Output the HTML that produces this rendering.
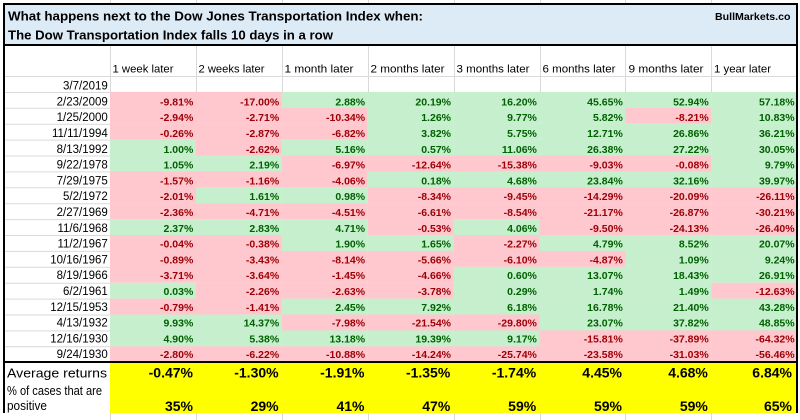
<!DOCTYPE html>
<html><head><meta charset="utf-8"><style>
html,body{margin:0;padding:0;background:#fff;width:800px;height:420px;overflow:hidden}
svg{display:block}
text{font-family:"Liberation Sans",Arial,sans-serif}
.p{fill:#FFC7CE}.g{fill:#C6EFCE}
.n text{font-size:10.5px;font-weight:bold;text-anchor:end}
.tp{fill:#9C0006}.tg{fill:#006100}
.d{font-size:11.5px;text-anchor:end;fill:#000}
.h{font-size:11px;fill:#000}
.y text{font-size:14px;font-weight:bold;text-anchor:end;fill:#000}
.gl{stroke:#D9D9D9;stroke-width:1}
</style></head><body>
<svg width="800" height="420" viewBox="0 0 800 420" xmlns="http://www.w3.org/2000/svg">
<rect x="0" y="0" width="800" height="420" fill="#fff"/>
<!-- gridlines outside -->
<g class="gl">
<line x1="110.5" y1="0" x2="110.5" y2="4"/><line x1="196.5" y1="0" x2="196.5" y2="4"/><line x1="282.5" y1="0" x2="282.5" y2="4"/><line x1="368.5" y1="0" x2="368.5" y2="4"/><line x1="454.5" y1="0" x2="454.5" y2="4"/><line x1="540.5" y1="0" x2="540.5" y2="4"/><line x1="625.5" y1="0" x2="625.5" y2="4"/><line x1="711.5" y1="0" x2="711.5" y2="4"/>
<line x1="110.5" y1="413" x2="110.5" y2="420"/><line x1="196.5" y1="413" x2="196.5" y2="420"/><line x1="282.5" y1="413" x2="282.5" y2="420"/><line x1="368.5" y1="413" x2="368.5" y2="420"/><line x1="454.5" y1="413" x2="454.5" y2="420"/><line x1="540.5" y1="413" x2="540.5" y2="420"/><line x1="625.5" y1="413" x2="625.5" y2="420"/><line x1="711.5" y1="413" x2="711.5" y2="420"/>
<!-- header verticals -->
<line x1="110.5" y1="45" x2="110.5" y2="92"/><line x1="196.5" y1="45" x2="196.5" y2="92"/><line x1="282.5" y1="45" x2="282.5" y2="92"/><line x1="368.5" y1="45" x2="368.5" y2="92"/><line x1="454.5" y1="45" x2="454.5" y2="92"/><line x1="540.5" y1="45" x2="540.5" y2="92"/><line x1="625.5" y1="45" x2="625.5" y2="92"/><line x1="711.5" y1="45" x2="711.5" y2="92"/>
<line x1="5" y1="76.5" x2="797" y2="76.5"/><line x1="5" y1="92.5" x2="797" y2="92.5"/>
<line x1="5" y1="108.3" x2="110" y2="108.3"/><line x1="5" y1="124.2" x2="110" y2="124.2"/><line x1="5" y1="140.1" x2="110" y2="140.1"/><line x1="5" y1="156" x2="110" y2="156"/><line x1="5" y1="171.9" x2="110" y2="171.9"/><line x1="5" y1="187.8" x2="110" y2="187.8"/><line x1="5" y1="203.7" x2="110" y2="203.7"/><line x1="5" y1="219.6" x2="110" y2="219.6"/><line x1="5" y1="235.5" x2="110" y2="235.5"/><line x1="5" y1="251.4" x2="110" y2="251.4"/><line x1="5" y1="267.3" x2="110" y2="267.3"/><line x1="5" y1="283.2" x2="110" y2="283.2"/><line x1="5" y1="299.1" x2="110" y2="299.1"/><line x1="5" y1="315" x2="110" y2="315"/><line x1="5" y1="330.9" x2="110" y2="330.9"/><line x1="5" y1="346.8" x2="110" y2="346.8"/>
</g>
<!-- title box -->
<rect x="4" y="4" width="793" height="41" fill="#DDEBF7" stroke="#000" stroke-width="2"/>
<text x="8" y="20.7" font-size="13.3" font-weight="bold" textLength="415" lengthAdjust="spacingAndGlyphs">What happens next to the Dow Jones Transportation Index when:</text>
<text x="8" y="39.3" font-size="13.3" font-weight="bold" textLength="325" lengthAdjust="spacingAndGlyphs">The Dow Transportation Index falls 10 days in a row</text>
<text x="715" y="20" font-size="10.5" font-weight="bold" textLength="75.5" lengthAdjust="spacingAndGlyphs">BullMarkets.co</text>
<!-- headers -->
<text class="h" x="112.5" y="72.7" textLength="61" lengthAdjust="spacingAndGlyphs">1 week later</text>
<text class="h" x="198.5" y="72.7" textLength="66" lengthAdjust="spacingAndGlyphs">2 weeks later</text>
<text class="h" x="284.5" y="72.7" textLength="69" lengthAdjust="spacingAndGlyphs">1 month later</text>
<text class="h" x="370.5" y="72.7" textLength="74" lengthAdjust="spacingAndGlyphs">2 months later</text>
<text class="h" x="456.5" y="72.7" textLength="73" lengthAdjust="spacingAndGlyphs">3 months later</text>
<text class="h" x="542.5" y="72.7" textLength="73" lengthAdjust="spacingAndGlyphs">6 months later</text>
<text class="h" x="628.5" y="72.7" textLength="75" lengthAdjust="spacingAndGlyphs">9 months later</text>
<text class="h" x="714" y="72.7" textLength="57" lengthAdjust="spacingAndGlyphs">1 year later</text>
<!-- dates -->
<text class="d" x="107.8" y="89.6">3/7/2019</text>
<text class="d" x="107.8" y="105.4">2/23/2009</text>
<text class="d" x="107.8" y="121.2">1/25/2000</text>
<text class="d" x="107.8" y="137">11/11/1994</text>
<text class="d" x="107.8" y="152.8">8/13/1992</text>
<text class="d" x="107.8" y="168.6">9/22/1978</text>
<text class="d" x="107.8" y="184.4">7/29/1975</text>
<text class="d" x="107.8" y="200.2">5/2/1972</text>
<text class="d" x="107.8" y="216">2/27/1969</text>
<text class="d" x="107.8" y="231.8">11/6/1968</text>
<text class="d" x="107.8" y="247.6">11/2/1967</text>
<text class="d" x="107.8" y="263.4">10/16/1967</text>
<text class="d" x="107.8" y="279.2">8/19/1966</text>
<text class="d" x="107.8" y="295">6/2/1961</text>
<text class="d" x="107.8" y="310.8">12/15/1953</text>
<text class="d" x="107.8" y="326.6">4/13/1932</text>
<text class="d" x="107.8" y="342.4">12/16/1930</text>
<text class="d" x="107.8" y="358.2">9/24/1930</text>
<!-- data -->
<g class="n">
<!-- row1 2009 t=91.9 b=105.4 -->
<rect class="p" x="110" y="91.9" width="86" height="16"/><rect class="p" x="195.9" y="91.9" width="86" height="16"/><rect class="g" x="281.8" y="91.9" width="86" height="16"/><rect class="g" x="367.7" y="91.9" width="86" height="16"/><rect class="g" x="453.6" y="91.9" width="86" height="16"/><rect class="g" x="539.5" y="91.9" width="86" height="16"/><rect class="g" x="625.4" y="91.9" width="86" height="16"/><rect class="g" x="711.3" y="91.9" width="86" height="16"/>
<text class="tp" x="193.3" y="105.4">-9.81%</text><text class="tp" x="279.2" y="105.4">-17.00%</text><text class="tg" x="365.1" y="105.4">2.88%</text><text class="tg" x="451" y="105.4">20.19%</text><text class="tg" x="536.9" y="105.4">16.20%</text><text class="tg" x="622.8" y="105.4">45.65%</text><text class="tg" x="708.7" y="105.4">52.94%</text><text class="tg" x="794.6" y="105.4">57.18%</text>
<!-- row2 2000 t=107.8 b=121.2 -->
<rect class="p" x="110" y="107.8" width="86" height="16"/><rect class="p" x="195.9" y="107.8" width="86" height="16"/><rect class="p" x="281.8" y="107.8" width="86" height="16"/><rect class="g" x="367.7" y="107.8" width="86" height="16"/><rect class="g" x="453.6" y="107.8" width="86" height="16"/><rect class="g" x="539.5" y="107.8" width="86" height="16"/><rect class="p" x="625.4" y="107.8" width="86" height="16"/><rect class="g" x="711.3" y="107.8" width="86" height="16"/>
<text class="tp" x="193.3" y="121.2">-2.94%</text><text class="tp" x="279.2" y="121.2">-2.71%</text><text class="tp" x="365.1" y="121.2">-10.34%</text><text class="tg" x="451" y="121.2">1.26%</text><text class="tg" x="536.9" y="121.2">9.77%</text><text class="tg" x="622.8" y="121.2">5.82%</text><text class="tp" x="708.7" y="121.2">-8.21%</text><text class="tg" x="794.6" y="121.2">10.83%</text>
<!-- row3 1994 t=123.7 b=137 -->
<rect class="p" x="110" y="123.7" width="86" height="16"/><rect class="p" x="195.9" y="123.7" width="86" height="16"/><rect class="p" x="281.8" y="123.7" width="86" height="16"/><rect class="g" x="367.7" y="123.7" width="86" height="16"/><rect class="g" x="453.6" y="123.7" width="86" height="16"/><rect class="g" x="539.5" y="123.7" width="86" height="16"/><rect class="g" x="625.4" y="123.7" width="86" height="16"/><rect class="g" x="711.3" y="123.7" width="86" height="16"/>
<text class="tp" x="193.3" y="137">-0.26%</text><text class="tp" x="279.2" y="137">-2.87%</text><text class="tp" x="365.1" y="137">-6.82%</text><text class="tg" x="451" y="137">3.82%</text><text class="tg" x="536.9" y="137">5.75%</text><text class="tg" x="622.8" y="137">12.71%</text><text class="tg" x="708.7" y="137">26.86%</text><text class="tg" x="794.6" y="137">36.21%</text>
<!-- row4 1992 t=139.6 b=152.8 -->
<rect class="g" x="110" y="139.6" width="86" height="16"/><rect class="p" x="195.9" y="139.6" width="86" height="16"/><rect class="g" x="281.8" y="139.6" width="86" height="16"/><rect class="g" x="367.7" y="139.6" width="86" height="16"/><rect class="g" x="453.6" y="139.6" width="86" height="16"/><rect class="g" x="539.5" y="139.6" width="86" height="16"/><rect class="g" x="625.4" y="139.6" width="86" height="16"/><rect class="g" x="711.3" y="139.6" width="86" height="16"/>
<text class="tg" x="193.3" y="152.8">1.00%</text><text class="tp" x="279.2" y="152.8">-2.62%</text><text class="tg" x="365.1" y="152.8">5.16%</text><text class="tg" x="451" y="152.8">0.57%</text><text class="tg" x="536.9" y="152.8">11.06%</text><text class="tg" x="622.8" y="152.8">26.38%</text><text class="tg" x="708.7" y="152.8">27.22%</text><text class="tg" x="794.6" y="152.8">30.05%</text>
<!-- row5 1978 t=155.5 b=168.6 -->
<rect class="g" x="110" y="155.5" width="86" height="16"/><rect class="g" x="195.9" y="155.5" width="86" height="16"/><rect class="p" x="281.8" y="155.5" width="86" height="16"/><rect class="p" x="367.7" y="155.5" width="86" height="16"/><rect class="p" x="453.6" y="155.5" width="86" height="16"/><rect class="p" x="539.5" y="155.5" width="86" height="16"/><rect class="p" x="625.4" y="155.5" width="86" height="16"/><rect class="g" x="711.3" y="155.5" width="86" height="16"/>
<text class="tg" x="193.3" y="168.6">1.05%</text><text class="tg" x="279.2" y="168.6">2.19%</text><text class="tp" x="365.1" y="168.6">-6.97%</text><text class="tp" x="451" y="168.6">-12.64%</text><text class="tp" x="536.9" y="168.6">-15.38%</text><text class="tp" x="622.8" y="168.6">-9.03%</text><text class="tp" x="708.7" y="168.6">-0.08%</text><text class="tg" x="794.6" y="168.6">9.79%</text>
<!-- row6 1975 t=171.4 b=184.4 -->
<rect class="p" x="110" y="171.4" width="86" height="16"/><rect class="p" x="195.9" y="171.4" width="86" height="16"/><rect class="p" x="281.8" y="171.4" width="86" height="16"/><rect class="g" x="367.7" y="171.4" width="86" height="16"/><rect class="g" x="453.6" y="171.4" width="86" height="16"/><rect class="g" x="539.5" y="171.4" width="86" height="16"/><rect class="g" x="625.4" y="171.4" width="86" height="16"/><rect class="g" x="711.3" y="171.4" width="86" height="16"/>
<text class="tp" x="193.3" y="184.4">-1.57%</text><text class="tp" x="279.2" y="184.4">-1.16%</text><text class="tp" x="365.1" y="184.4">-4.06%</text><text class="tg" x="451" y="184.4">0.18%</text><text class="tg" x="536.9" y="184.4">4.68%</text><text class="tg" x="622.8" y="184.4">23.84%</text><text class="tg" x="708.7" y="184.4">32.16%</text><text class="tg" x="794.6" y="184.4">39.97%</text>
<!-- row7 1972 t=187.3 b=200.2 -->
<rect class="p" x="110" y="187.3" width="86" height="16"/><rect class="g" x="195.9" y="187.3" width="86" height="16"/><rect class="g" x="281.8" y="187.3" width="86" height="16"/><rect class="p" x="367.7" y="187.3" width="86" height="16"/><rect class="p" x="453.6" y="187.3" width="86" height="16"/><rect class="p" x="539.5" y="187.3" width="86" height="16"/><rect class="p" x="625.4" y="187.3" width="86" height="16"/><rect class="p" x="711.3" y="187.3" width="86" height="16"/>
<text class="tp" x="193.3" y="200.2">-2.01%</text><text class="tg" x="279.2" y="200.2">1.61%</text><text class="tg" x="365.1" y="200.2">0.98%</text><text class="tp" x="451" y="200.2">-8.34%</text><text class="tp" x="536.9" y="200.2">-9.45%</text><text class="tp" x="622.8" y="200.2">-14.29%</text><text class="tp" x="708.7" y="200.2">-20.09%</text><text class="tp" x="794.6" y="200.2">-26.11%</text>
<!-- row8 1969 t=203.2 b=216 -->
<rect class="p" x="110" y="203.2" width="86" height="16"/><rect class="p" x="195.9" y="203.2" width="86" height="16"/><rect class="p" x="281.8" y="203.2" width="86" height="16"/><rect class="p" x="367.7" y="203.2" width="86" height="16"/><rect class="p" x="453.6" y="203.2" width="86" height="16"/><rect class="p" x="539.5" y="203.2" width="86" height="16"/><rect class="p" x="625.4" y="203.2" width="86" height="16"/><rect class="p" x="711.3" y="203.2" width="86" height="16"/>
<text class="tp" x="193.3" y="216">-2.36%</text><text class="tp" x="279.2" y="216">-4.71%</text><text class="tp" x="365.1" y="216">-4.51%</text><text class="tp" x="451" y="216">-6.61%</text><text class="tp" x="536.9" y="216">-8.54%</text><text class="tp" x="622.8" y="216">-21.17%</text><text class="tp" x="708.7" y="216">-26.87%</text><text class="tp" x="794.6" y="216">-30.21%</text>
<!-- row9 1968 t=219.1 b=231.8 -->
<rect class="g" x="110" y="219.1" width="86" height="16"/><rect class="g" x="195.9" y="219.1" width="86" height="16"/><rect class="g" x="281.8" y="219.1" width="86" height="16"/><rect class="p" x="367.7" y="219.1" width="86" height="16"/><rect class="g" x="453.6" y="219.1" width="86" height="16"/><rect class="p" x="539.5" y="219.1" width="86" height="16"/><rect class="p" x="625.4" y="219.1" width="86" height="16"/><rect class="p" x="711.3" y="219.1" width="86" height="16"/>
<text class="tg" x="193.3" y="231.8">2.37%</text><text class="tg" x="279.2" y="231.8">2.83%</text><text class="tg" x="365.1" y="231.8">4.71%</text><text class="tp" x="451" y="231.8">-0.53%</text><text class="tg" x="536.9" y="231.8">4.06%</text><text class="tp" x="622.8" y="231.8">-9.50%</text><text class="tp" x="708.7" y="231.8">-24.13%</text><text class="tp" x="794.6" y="231.8">-26.40%</text>
<!-- row10 11/2/1967 t=235 b=247.6 -->
<rect class="p" x="110" y="235" width="86" height="16"/><rect class="p" x="195.9" y="235" width="86" height="16"/><rect class="g" x="281.8" y="235" width="86" height="16"/><rect class="g" x="367.7" y="235" width="86" height="16"/><rect class="p" x="453.6" y="235" width="86" height="16"/><rect class="g" x="539.5" y="235" width="86" height="16"/><rect class="g" x="625.4" y="235" width="86" height="16"/><rect class="g" x="711.3" y="235" width="86" height="16"/>
<text class="tp" x="193.3" y="247.6">-0.04%</text><text class="tp" x="279.2" y="247.6">-0.38%</text><text class="tg" x="365.1" y="247.6">1.90%</text><text class="tg" x="451" y="247.6">1.65%</text><text class="tp" x="536.9" y="247.6">-2.27%</text><text class="tg" x="622.8" y="247.6">4.79%</text><text class="tg" x="708.7" y="247.6">8.52%</text><text class="tg" x="794.6" y="247.6">20.07%</text>
<!-- row11 10/16/1967 t=250.9 b=263.4 -->
<rect class="p" x="110" y="250.9" width="86" height="16"/><rect class="p" x="195.9" y="250.9" width="86" height="16"/><rect class="p" x="281.8" y="250.9" width="86" height="16"/><rect class="p" x="367.7" y="250.9" width="86" height="16"/><rect class="p" x="453.6" y="250.9" width="86" height="16"/><rect class="p" x="539.5" y="250.9" width="86" height="16"/><rect class="g" x="625.4" y="250.9" width="86" height="16"/><rect class="g" x="711.3" y="250.9" width="86" height="16"/>
<text class="tp" x="193.3" y="263.4">-0.89%</text><text class="tp" x="279.2" y="263.4">-3.43%</text><text class="tp" x="365.1" y="263.4">-8.14%</text><text class="tp" x="451" y="263.4">-5.66%</text><text class="tp" x="536.9" y="263.4">-6.10%</text><text class="tp" x="622.8" y="263.4">-4.87%</text><text class="tg" x="708.7" y="263.4">1.09%</text><text class="tg" x="794.6" y="263.4">9.24%</text>
<!-- row12 1966 t=266.8 b=279.2 -->
<rect class="p" x="110" y="266.8" width="86" height="16"/><rect class="p" x="195.9" y="266.8" width="86" height="16"/><rect class="p" x="281.8" y="266.8" width="86" height="16"/><rect class="p" x="367.7" y="266.8" width="86" height="16"/><rect class="g" x="453.6" y="266.8" width="86" height="16"/><rect class="g" x="539.5" y="266.8" width="86" height="16"/><rect class="g" x="625.4" y="266.8" width="86" height="16"/><rect class="g" x="711.3" y="266.8" width="86" height="16"/>
<text class="tp" x="193.3" y="279.2">-3.71%</text><text class="tp" x="279.2" y="279.2">-3.64%</text><text class="tp" x="365.1" y="279.2">-1.45%</text><text class="tp" x="451" y="279.2">-4.66%</text><text class="tg" x="536.9" y="279.2">0.60%</text><text class="tg" x="622.8" y="279.2">13.07%</text><text class="tg" x="708.7" y="279.2">18.43%</text><text class="tg" x="794.6" y="279.2">26.91%</text>
<!-- row13 1961 t=282.7 b=295 -->
<rect class="g" x="110" y="282.7" width="86" height="16"/><rect class="p" x="195.9" y="282.7" width="86" height="16"/><rect class="p" x="281.8" y="282.7" width="86" height="16"/><rect class="p" x="367.7" y="282.7" width="86" height="16"/><rect class="g" x="453.6" y="282.7" width="86" height="16"/><rect class="g" x="539.5" y="282.7" width="86" height="16"/><rect class="g" x="625.4" y="282.7" width="86" height="16"/><rect class="p" x="711.3" y="282.7" width="86" height="16"/>
<text class="tg" x="193.3" y="295">0.03%</text><text class="tp" x="279.2" y="295">-2.26%</text><text class="tp" x="365.1" y="295">-2.63%</text><text class="tp" x="451" y="295">-3.78%</text><text class="tg" x="536.9" y="295">0.29%</text><text class="tg" x="622.8" y="295">1.74%</text><text class="tg" x="708.7" y="295">1.49%</text><text class="tp" x="794.6" y="295">-12.63%</text>
<!-- row14 1953 t=298.6 b=310.8 -->
<rect class="p" x="110" y="298.6" width="86" height="16"/><rect class="p" x="195.9" y="298.6" width="86" height="16"/><rect class="g" x="281.8" y="298.6" width="86" height="16"/><rect class="g" x="367.7" y="298.6" width="86" height="16"/><rect class="g" x="453.6" y="298.6" width="86" height="16"/><rect class="g" x="539.5" y="298.6" width="86" height="16"/><rect class="g" x="625.4" y="298.6" width="86" height="16"/><rect class="g" x="711.3" y="298.6" width="86" height="16"/>
<text class="tp" x="193.3" y="310.8">-0.79%</text><text class="tp" x="279.2" y="310.8">-1.41%</text><text class="tg" x="365.1" y="310.8">2.45%</text><text class="tg" x="451" y="310.8">7.92%</text><text class="tg" x="536.9" y="310.8">6.18%</text><text class="tg" x="622.8" y="310.8">16.78%</text><text class="tg" x="708.7" y="310.8">21.40%</text><text class="tg" x="794.6" y="310.8">43.28%</text>
<!-- row15 1932 t=314.5 b=326.6 -->
<rect class="g" x="110" y="314.5" width="86" height="16"/><rect class="g" x="195.9" y="314.5" width="86" height="16"/><rect class="p" x="281.8" y="314.5" width="86" height="16"/><rect class="p" x="367.7" y="314.5" width="86" height="16"/><rect class="p" x="453.6" y="314.5" width="86" height="16"/><rect class="g" x="539.5" y="314.5" width="86" height="16"/><rect class="g" x="625.4" y="314.5" width="86" height="16"/><rect class="g" x="711.3" y="314.5" width="86" height="16"/>
<text class="tg" x="193.3" y="326.6">9.93%</text><text class="tg" x="279.2" y="326.6">14.37%</text><text class="tp" x="365.1" y="326.6">-7.98%</text><text class="tp" x="451" y="326.6">-21.54%</text><text class="tp" x="536.9" y="326.6">-29.80%</text><text class="tg" x="622.8" y="326.6">23.07%</text><text class="tg" x="708.7" y="326.6">37.82%</text><text class="tg" x="794.6" y="326.6">48.85%</text>
<!-- row16 12/16/1930 t=330.4 b=342.4 -->
<rect class="g" x="110" y="330.4" width="86" height="16"/><rect class="g" x="195.9" y="330.4" width="86" height="16"/><rect class="g" x="281.8" y="330.4" width="86" height="16"/><rect class="g" x="367.7" y="330.4" width="86" height="16"/><rect class="g" x="453.6" y="330.4" width="86" height="16"/><rect class="p" x="539.5" y="330.4" width="86" height="16"/><rect class="p" x="625.4" y="330.4" width="86" height="16"/><rect class="p" x="711.3" y="330.4" width="86" height="16"/>
<text class="tg" x="193.3" y="342.4">4.90%</text><text class="tg" x="279.2" y="342.4">5.38%</text><text class="tg" x="365.1" y="342.4">13.18%</text><text class="tg" x="451" y="342.4">19.39%</text><text class="tg" x="536.9" y="342.4">9.17%</text><text class="tp" x="622.8" y="342.4">-15.81%</text><text class="tp" x="708.7" y="342.4">-37.89%</text><text class="tp" x="794.6" y="342.4">-64.32%</text>
<!-- row17 9/24/1930 t=346.3 b=358.2 -->
<rect class="p" x="110" y="346.3" width="86" height="16"/><rect class="p" x="195.9" y="346.3" width="86" height="16"/><rect class="p" x="281.8" y="346.3" width="86" height="16"/><rect class="p" x="367.7" y="346.3" width="86" height="16"/><rect class="p" x="453.6" y="346.3" width="86" height="16"/><rect class="p" x="539.5" y="346.3" width="86" height="16"/><rect class="p" x="625.4" y="346.3" width="86" height="16"/><rect class="p" x="711.3" y="346.3" width="86" height="16"/>
<text class="tp" x="193.3" y="358.2">-2.80%</text><text class="tp" x="279.2" y="358.2">-6.22%</text><text class="tp" x="365.1" y="358.2">-10.88%</text><text class="tp" x="451" y="358.2">-14.24%</text><text class="tp" x="536.9" y="358.2">-25.74%</text><text class="tp" x="622.8" y="358.2">-23.58%</text><text class="tp" x="708.7" y="358.2">-31.03%</text><text class="tp" x="794.6" y="358.2">-56.46%</text>
</g>
<!-- yellow summary -->
<rect x="110" y="363" width="687" height="50" fill="#FFFF00"/>
<g class="y">
<text x="193" y="377.7">-0.47%</text><text x="278.6" y="377.7">-1.30%</text><text x="364.5" y="377.7">-1.91%</text><text x="450.3" y="377.7">-1.35%</text><text x="536.2" y="377.7">-1.74%</text><text x="622" y="377.7">4.45%</text><text x="707.9" y="377.7">4.68%</text><text x="792" y="377.7">6.84%</text>
<text x="193" y="411">35%</text><text x="278.6" y="411">29%</text><text x="364.5" y="411">41%</text><text x="450.3" y="411">47%</text><text x="536.2" y="411">59%</text><text x="622" y="411">59%</text><text x="707.9" y="411">59%</text><text x="792" y="411">65%</text>
</g>
<text x="7" y="377.3" font-size="12.5" textLength="100" lengthAdjust="spacingAndGlyphs">Average returns</text>
<text x="7" y="395" font-size="12.5" textLength="95" lengthAdjust="spacingAndGlyphs">% of cases that are</text>
<text x="7" y="410" font-size="12.5" textLength="40" lengthAdjust="spacingAndGlyphs">positive</text>
<!-- borders -->
<line x1="4" y1="3" x2="4" y2="413" stroke="#000" stroke-width="2"/>
<line x1="797" y1="3" x2="797" y2="413" stroke="#000" stroke-width="2"/>
<line x1="3" y1="362" x2="798" y2="362" stroke="#000" stroke-width="2"/>
</svg>
</body></html>
